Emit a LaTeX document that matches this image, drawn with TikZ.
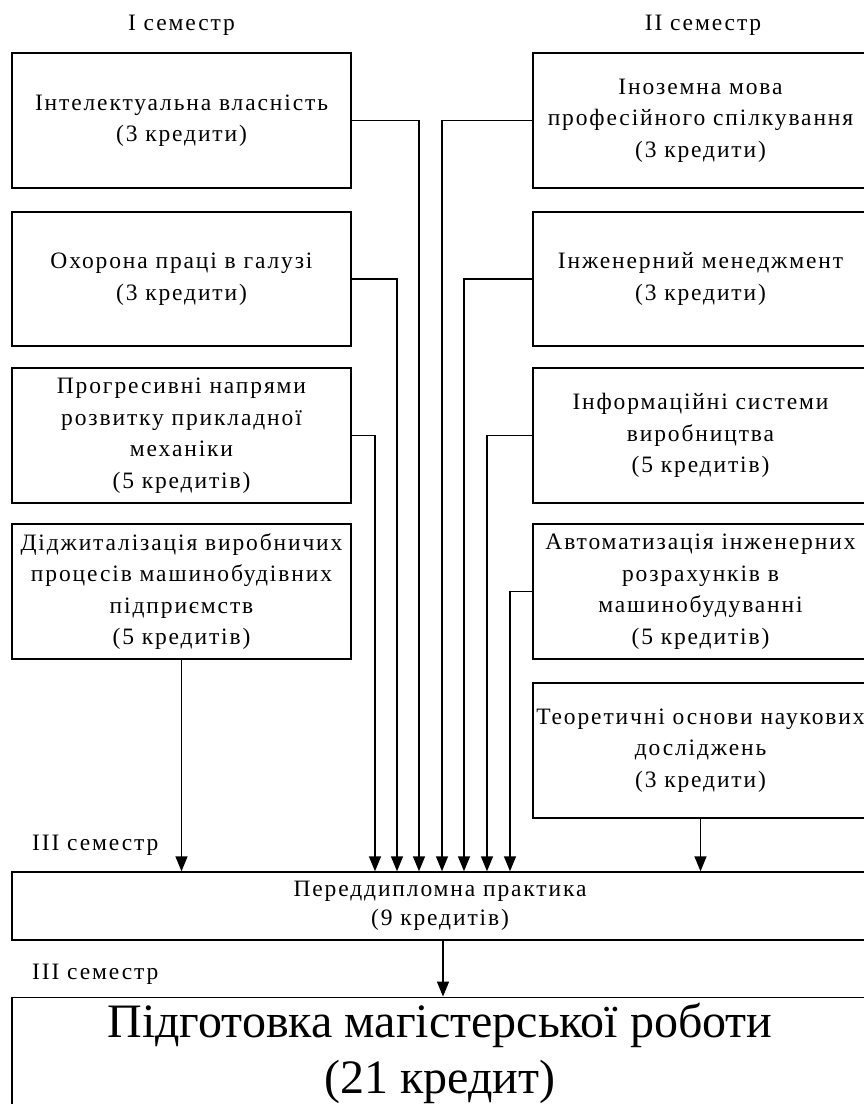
\documentclass[tikz,border=0pt]{standalone}
\usepackage{fontspec}
\setmainfont{Liberation Serif}
\newfontfamily\boxfont[LetterSpace=8]{Liberation Serif}
\usetikzlibrary{arrows.meta}
\tikzset{
  box/.style={draw, line width=1.4pt, minimum width=#1, align=center, inner sep=0pt,
    font=\boxfont\fontsize{23.5}{31.5}\selectfont},
  lbox/.style={box=339pt, minimum height=135pt},
  rbox/.style={box=335pt, minimum height=135pt},
  arr/.style={line width=1.4pt, -{Triangle[length=15pt,width=12pt]}},
  lbl/.style={font=\boxfont\fontsize{23.5}{28}\selectfont, inner sep=0pt},
}
\begin{document}
\begin{tikzpicture}[x=1pt,y=-1pt]
\clip (0,0) rectangle (864,1104);
\useasboundingbox (0,0) rectangle (864,1104);
\fill[white] (0,0) rectangle (864,1104);
% top labels
\node[lbl] (s1) at (181.5,25) {I семестр};
\node[lbl] (s2) at (703,25) {II семестр};
% semester labels
\node[lbl, anchor=west] (s3) at (32,845) {III семестр};
\node[lbl, anchor=west] (s4) at (32,974) {III семестр};
% left column
\node[lbox] (L1) at (181.5,120.5) {Інтелектуальна власність\\(3 кредити)};
\node[lbox, minimum height=134pt] (L2) at (181.5,279) {Охорона праці в галузі\\(3 кредити)};
\node[lbox] (L3) at (181.5,435.5) {Прогресивні напрями\\розвитку прикладної\\механіки\\(5 кредитів)};
\node[lbox] (L4) at (181.5,591.5) {Діджиталізація виробничих\\процесів машинобудівних\\підприємств\\(5 кредитів)};
% right column
\node[rbox] (R1) at (700.5,120.5) {Іноземна мова\\професійного спілкування\\(3 кредити)};
\node[rbox, minimum height=134pt] (R2) at (700.5,279) {Інженерний менеджмент\\(3 кредити)};
\node[rbox] (R3) at (700.5,435.5) {Інформаційні системи\\виробництва\\(5 кредитів)};
\node[rbox] (R4) at (700.5,591.5) {Автоматизація інженерних\\розрахунків в\\машинобудуванні\\(5 кредитів)};
\node[rbox] (R5) at (700.5,750.5) {Теоретичні основи наукових\\досліджень\\(3 кредити)};
% practice
\node[box=856pt, minimum height=68pt, font=\boxfont\fontsize{23.5}{28.5}\selectfont] (P) at (440,906) {Переддипломна практика\\(9 кредитів)};
% final
\node[draw, line width=1.4pt, minimum width=856pt, minimum height=112.5pt, align=center, inner sep=0pt,
  font=\fontsize{48}{56}\selectfont] (F) at (440,1053.5) {Підготовка магістерської роботи\\(21 кредит)};
% connector columns
\coordinate (cL3) at (375,0);
\coordinate (cL2) at (397,0);
\coordinate (cL1) at (419,0);
\coordinate (cR1) at (442,0);
\coordinate (cR2) at (464,0);
\coordinate (cR3) at (487,0);
\coordinate (cR4) at (510,0);
\coordinate (cF) at (443,0);
\draw[arr] (L1.east) -| (cL1 |- P.north);
\draw[arr] (L2.east) -| (cL2 |- P.north);
\draw[arr] (L3.east) -| (cL3 |- P.north);
\draw[arr] (R1.west) -| (cR1 |- P.north);
\draw[arr] (R2.west) -| (cR2 |- P.north);
\draw[arr] (R3.west) -| (cR3 |- P.north);
\draw[arr] (R4.west) -| (cR4 |- P.north);
\draw[arr] (L4.south) -- (L4.south |- P.north);
\draw[arr] (R5.south) -- (R5.south |- P.north);
\draw[arr] (cF |- P.south) -- (cF |- F.north);
\end{tikzpicture}
\end{document}
